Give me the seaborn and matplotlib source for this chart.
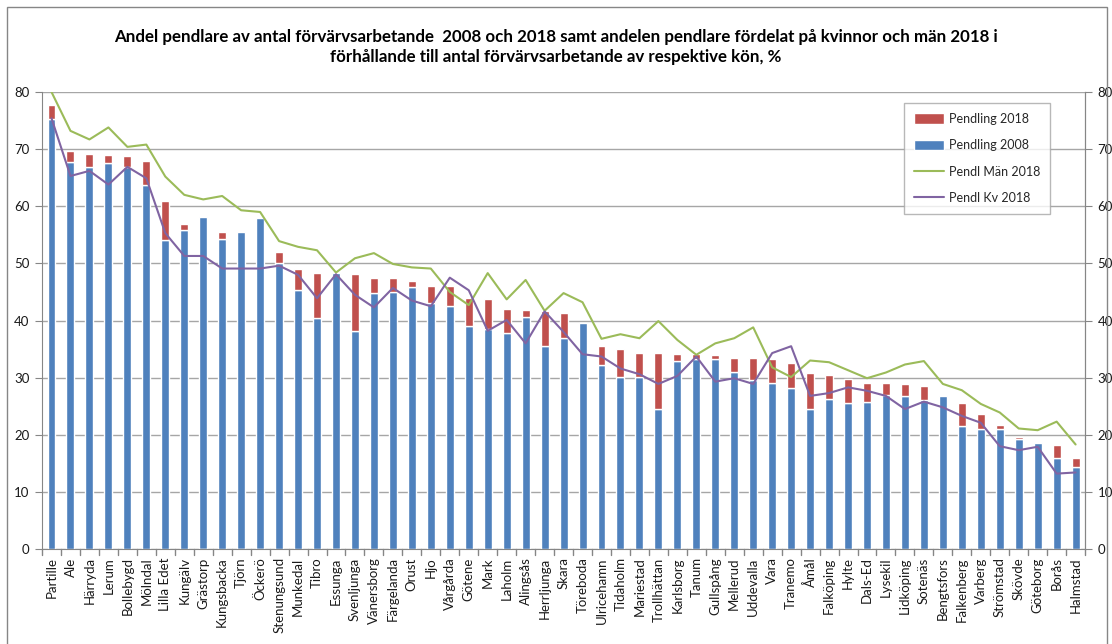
import numpy as np
import pandas as pd
import matplotlib
matplotlib.use("Agg")
import matplotlib.pyplot as plt
import seaborn as sns
from matplotlib.patches import Patch, Rectangle
from matplotlib.lines import Line2D

# Kommuner, sorterade efter andel pendlare 2018
kommuner = [
    "Partille", "Ale", "Härryda", "Lerum", "Bollebygd", "Mölndal", "Lilla Edet",
    "Kungälv", "Grästorp", "Kungsbacka", "Tjörn", "Öckerö", "Stenungsund",
    "Munkedal", "Tibro", "Essunga", "Svenljunga", "Vänersborg", "Färgelanda",
    "Orust", "Hjo", "Vårgårda", "Götene", "Mark", "Laholm", "Alingsås",
    "Herrljunga", "Skara", "Töreboda", "Ulricehamn", "Tidaholm", "Mariestad",
    "Trollhättan", "Karlsborg", "Tanum", "Gullspång", "Mellerud", "Uddevalla",
    "Vara", "Tranemo", "Åmål", "Falköping", "Hylte", "Dals-Ed", "Lysekil",
    "Lidköping", "Sotenäs", "Bengtsfors", "Falkenberg", "Varberg", "Strömstad",
    "Skövde", "Göteborg", "Borås", "Halmstad",
]

pendling_2008 = [
    75.2, 67.8, 66.8, 67.6, 66.8, 63.7, 54.1, 55.8, 58.2, 54.3, 55.5, 58.0, 50.0,
    45.4, 40.5, 48.4, 38.2, 44.9, 45.0, 45.8, 43.1, 42.6, 39.1, 38.5, 37.9, 40.7,
    35.5, 36.9, 39.6, 32.3, 30.1, 30.1, 24.5, 32.9, 33.2, 33.2, 31.0, 29.6, 29.0,
    28.2, 24.5, 26.2, 25.5, 25.8, 27.0, 26.7, 26.1, 26.7, 21.5, 21.0, 21.0, 19.2,
    18.6, 15.9, 14.4,
]

pendling_2018 = [
    77.7, 69.6, 69.1, 69.0, 68.8, 67.9, 61.0, 56.9, 57.9, 55.5, 55.3, 57.7, 52.0,
    49.1, 48.4, 48.1, 48.1, 47.5, 47.5, 47.0, 46.1, 46.1, 44.0, 43.7, 42.0, 41.8,
    41.6, 41.4, 39.3, 35.5, 35.0, 34.3, 34.3, 34.1, 34.1, 34.0, 33.5, 33.4, 33.3,
    32.6, 30.9, 30.5, 29.8, 29.1, 29.1, 28.8, 28.6, 26.4, 25.6, 23.6, 21.7, 19.6,
    18.3, 18.2, 15.9,
]

pendl_man_2018 = [
    80.0, 73.2, 71.7, 73.8, 70.4, 70.8, 65.2, 62.0, 61.2, 61.8, 59.3, 59.0, 53.9,
    52.9, 52.3, 48.4, 50.9, 51.8, 49.9, 49.3, 49.1, 45.0, 42.7, 48.3, 43.7, 47.1,
    41.7, 44.8, 43.2, 36.8, 37.6, 36.9, 39.9, 36.6, 34.0, 36.0, 36.9, 38.8, 31.8,
    30.1, 33.0, 32.7, 31.3, 29.9, 30.9, 32.3, 32.9, 28.9, 27.8, 25.4, 23.9, 21.1,
    20.8, 22.3, 18.3,
]

pendl_kv_2018 = [
    75.4, 65.3, 66.2, 63.8, 66.9, 64.9, 55.3, 51.3, 51.3, 49.1, 49.1, 49.1, 49.6,
    48.0, 43.9, 48.1, 44.5, 42.3, 45.7, 43.5, 42.5, 47.5, 45.3, 38.2, 40.1, 36.0,
    41.6, 38.0, 34.1, 33.7, 31.6, 30.6, 28.9, 30.3, 33.7, 29.3, 29.9, 28.9, 34.3,
    35.5, 26.8, 27.3, 28.3, 27.7, 26.8, 24.5, 25.8, 24.8, 23.3, 22.1, 18.0, 17.3,
    17.9, 13.2, 13.4,
]

df = pd.DataFrame({
    "Kommun": kommuner,
    "Pendling 2008": pendling_2008,
    "Pendling 2018": pendling_2018,
    "Pendl Män 2018": pendl_man_2018,
    "Pendl Kv 2018": pendl_kv_2018,
})
df["Okning"] = df["Pendling 2018"] - df["Pendling 2008"]

BLUE = "#4F81BD"
RED = "#C0504D"
GREEN = "#9BBB59"
PURPLE = "#8064A2"

sns.set_style("white")
plt.rcParams["font.family"] = ["Lato", "DejaVu Sans"]

fig = plt.figure(figsize=(11.12, 6.44), dpi=100)
ax = fig.add_axes([0.0378, 0.1475, 0.938, 0.7096])

x = np.arange(len(df))
bar_w = 0.42

# ==========================
# Staplar: 2008 + förändring till 2018
# ==========================
sns.barplot(data=df, x="Kommun", y="Pendling 2008", color=BLUE, width=bar_w,
            saturation=1, ax=ax, zorder=2)
ax.bar(x, df["Okning"], bottom=np.where(df["Okning"] > 0, df["Pendling 2008"], 0),
       width=bar_w, color=RED, zorder=2)

# ==========================
# Linjer: män och kvinnor
# ==========================
sns.lineplot(x=x, y=df["Pendl Män 2018"], color=GREEN, lw=1.5, ax=ax, zorder=3)
sns.lineplot(x=x, y=df["Pendl Kv 2018"], color=PURPLE, lw=1.5, ax=ax, zorder=3)

ax.set_xlim(-0.5, len(df) - 0.5)
ax.set_ylim(0, 80)
ax.set_yticks(range(0, 81, 10))
ax.yaxis.grid(True, color="#A6A6A6", lw=1, zorder=0)
ax.set_xlabel("")
ax.set_ylabel("")

ax.set_xticks(x)
ax.set_xticklabels(df["Kommun"], rotation=90, fontsize=9.5, color="#1a1a1a")
ax.tick_params(axis="x", length=0, pad=6)
ax.tick_params(axis="y", length=5, labelsize=9.5, colors="#1a1a1a", pad=4, left=True,
               direction="out", color="#868686")
for b in np.arange(-0.5, len(df), 1):
    ax.plot([b, b], [0, -1.0], color="#868686", lw=1, clip_on=False, zorder=1)

ax.spines["top"].set_visible(False)
ax.spines["left"].set_color("#868686")
ax.spines["bottom"].set_color("#868686")
ax.spines["right"].set_color("#868686")

ax2 = ax.twinx()
ax2.set_ylim(0, 80)
ax2.set_yticks(range(0, 81, 10))
ax2.tick_params(axis="y", length=5, labelsize=9.5, colors="#1a1a1a", pad=4,
                direction="out", color="#868686")
for side in ["top", "left", "bottom"]:
    ax2.spines[side].set_visible(False)
ax2.spines["right"].set_color("#868686")

handles = [
    Patch(facecolor=RED, label="Pendling 2018"),
    Patch(facecolor=BLUE, label="Pendling 2008"),
    Line2D([0], [0], color=GREEN, lw=1.5, label="Pendl Män 2018"),
    Line2D([0], [0], color=PURPLE, lw=1.5, label="Pendl Kv 2018"),
]
leg = ax2.legend(handles=handles, loc="upper left", bbox_to_anchor=(0.826, 0.976),
                 fontsize=9, frameon=True, fancybox=False, edgecolor="#A6A6A6",
                 handlelength=2.4, handleheight=0.9, labelspacing=1.15,
                 borderpad=0.8, handletextpad=0.4, borderaxespad=0)
leg.get_frame().set_linewidth(1)

fig.text(0.5, 0.927,
         "Andel pendlare av antal förvärvsarbetande  2008 och 2018 samt andelen pendlare fördelat på kvinnor och män 2018 i\n"
         "förhållande till antal förvärvsarbetande av respektive kön, %",
         ha="center", va="center", fontsize=12.2, fontweight="bold",
         linespacing=1.35, color="#000000")

fig.patches.append(Rectangle((7 / 1112, -0.05), 1100 / 1112, 1.05 - 7 / 644,
                             transform=fig.transFigure, fill=False,
                             edgecolor="#868686", lw=1))

plt.savefig("out.png", dpi=100)
